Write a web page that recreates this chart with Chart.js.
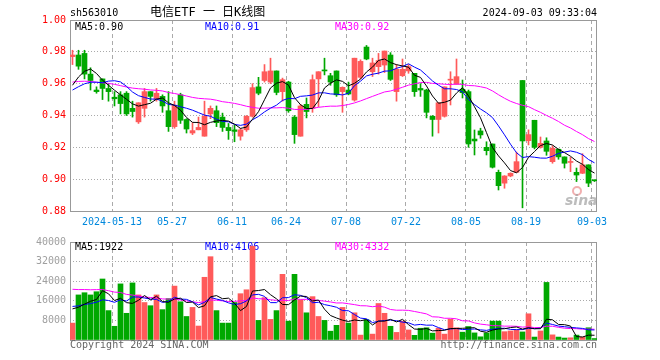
<!DOCTYPE html>
<html>
<head>
<meta charset="utf-8">
<script src="https://cdn.jsdelivr.net/npm/chart.js"></script>
<style>
  body { margin: 0; background: #fff; }
  #wrap { position: relative; width: 660px; height: 360px; background: #fff; font-family: 'DejaVu Sans Mono', monospace; }
  .txt { position: absolute; font-size: 10px; line-height: 12px; white-space: pre; color: #000; }
  #kline { position: absolute; left: 0; top: 0; }
  #vol { position: absolute; left: 0; top: 232px; }
</style>
</head>
<body>
<div id="wrap">
  <canvas id="kline" width="660" height="232"></canvas>
  <canvas id="vol" width="660" height="128"></canvas>
  <div class="txt" style="left:70px;top:7px;">sh563010</div>
  <div class="txt" style="left:150px;top:5px;font-size:12px;line-height:14px;font-family:'DejaVu Sans Mono','Noto Sans CJK SC',monospace;">电信ETF 一 日K线图</div>
  <div class="txt" style="right:63px;top:7px;">2024-09-03 09:33:04</div>
  <div class="txt" style="left:70px;top:339px;color:#666;">Copyright 2024 SINA.COM</div>
  <div class="txt" style="right:63px;top:339px;color:#666;">http://finance.sina.com.cn</div>
</div>
<script>
// daily candles, 2024-04-29 .. 2024-09-03
const opens = [0.977,0.978,0.979,0.966,0.956,0.963,0.957,0.9515,0.953,0.954,
  0.9445,0.936,0.9445,0.955,0.950,0.952,0.943,0.933,0.953,0.9375,
  0.929,0.931,0.927,0.941,0.943,0.939,0.9325,0.931,0.927,0.931,
  0.9395,0.958,0.962,0.961,0.968,0.955,0.961,0.939,0.927,0.947,
  0.9445,0.963,0.9685,0.965,0.968,0.955,0.956,0.9497,0.964,0.983,
  0.9675,0.9707,0.9717,0.978,0.955,0.965,0.968,0.9665,0.957,0.956,
  0.9395,0.9375,0.9395,0.9622,0.9596,0.9565,0.955,0.9252,0.9303,0.920,
  0.9221,0.9043,0.8975,0.902,0.9043,0.962,0.9242,0.937,0.920,0.924,
  0.911,0.9188,0.914,0.9105,0.9043,0.9037,0.909,0.8993];
const highs = [0.981,0.981,0.981,0.970,0.958,0.963,0.960,0.955,0.955,0.955,
  0.949,0.948,0.957,0.955,0.957,0.953,0.955,0.949,0.954,0.938,
  0.9355,0.939,0.949,0.946,0.946,0.9415,0.935,0.934,0.932,0.940,
  0.960,0.964,0.972,0.976,0.968,0.9635,0.9615,0.940,0.947,0.951,
  0.9655,0.9675,0.976,0.9665,0.968,0.958,0.961,0.976,0.975,0.984,
  0.976,0.979,0.9805,0.9795,0.972,0.9755,0.972,0.9665,0.960,0.9565,
  0.940,0.948,0.958,0.9675,0.9755,0.9623,0.956,0.9309,0.932,0.9235,
  0.9221,0.9057,0.9022,0.904,0.917,0.962,0.931,0.937,0.9265,0.926,
  0.921,0.919,0.914,0.9137,0.907,0.916,0.909,0.8995];
const lows = [0.972,0.969,0.963,0.956,0.954,0.950,0.949,0.946,0.941,0.940,
  0.939,0.935,0.939,0.949,0.949,0.942,0.930,0.932,0.935,0.929,
  0.928,0.931,0.927,0.938,0.933,0.930,0.925,0.9235,0.9245,0.930,
  0.939,0.953,0.961,0.960,0.953,0.949,0.942,0.9225,0.927,0.9385,
  0.942,0.9455,0.9655,0.959,0.952,0.942,0.953,0.949,0.963,0.975,
  0.9645,0.966,0.967,0.962,0.949,0.9645,0.9665,0.952,0.952,0.9385,
  0.927,0.929,0.939,0.9466,0.9596,0.951,0.920,0.9152,0.9257,0.9152,
  0.907,0.8932,0.8943,0.9015,0.9043,0.882,0.9215,0.919,0.9195,0.915,
  0.910,0.9125,0.907,0.9047,0.8985,0.9035,0.8953,0.8985];
const closes = [0.978,0.971,0.966,0.962,0.955,0.957,0.955,0.9505,0.9475,0.941,
  0.9425,0.948,0.955,0.952,0.954,0.946,0.933,0.9465,0.937,0.9315,
  0.9305,0.9325,0.9395,0.9445,0.9355,0.9325,0.9305,0.930,0.931,0.9395,
  0.9575,0.954,0.9675,0.968,0.9545,0.9625,0.943,0.928,0.946,0.9425,
  0.9625,0.9675,0.968,0.961,0.953,0.9577,0.9535,0.976,0.974,0.9755,
  0.973,0.9745,0.9805,0.9627,0.969,0.969,0.9707,0.955,0.956,0.942,
  0.9375,0.948,0.958,0.9627,0.9644,0.9543,0.9221,0.924,0.9278,0.9179,
  0.9075,0.8959,0.902,0.9037,0.911,0.924,0.928,0.920,0.9225,0.9175,
  0.9194,0.914,0.910,0.911,0.9026,0.909,0.8975,0.899];
const volumes = [6900,18400,19300,18400,19700,24900,12000,5600,22900,10900,
  23300,18400,15300,14000,18400,12400,16900,22000,15600,9600,
  13300,5700,25600,34000,12000,6900,6900,15300,18900,20500,
  38300,8000,17300,8400,12000,26800,7700,26800,16400,11100,
  17700,9600,8000,3600,6000,13300,6900,11100,2000,8300,
  2400,14900,10900,5600,3100,7700,4100,1900,4800,5000,
  2800,4800,2400,8500,5000,3200,5500,2900,1300,2900,
  7700,7700,3400,3700,4100,3300,10700,1200,3700,23500,
  2100,1200,800,900,2000,1200,5000,600];

// sessions before the window, only used to seed the moving averages
const closesBefore = [0.958,0.962,0.966,0.970,0.968,0.965,0.969,0.972,0.967,0.963,
  0.960,0.964,0.966,0.961,0.958,0.962,0.965,0.960,0.956,0.957,
  0.950,0.948,0.952,0.955,0.960,0.945,0.948,0.955,0.969];
const volumesBefore = [22000,19000,21000,18000,24000,26000,23000,27000,35000,31000,
  30000,28000,20000,23000,25000,19000,22000,26000,21000,24000,
  16000,13500,15000,14000,15000,15000,13000,12600,16000];

const tickIdx = [7, 17, 27, 36, 46, 56, 66, 76, 87];
const tickLabels = ['2024-05-13','05-27','06-11','06-24','07-08','07-22','08-05','08-19','09-03'];
const priceTicks = [0.88, 0.90, 0.92, 0.94, 0.96, 0.98, 1.00];
const volTicks = [0, 8000, 16000, 24000, 32000, 40000];

const RED = '#ff5a5a';
const GREEN = '#00a800';
const HALF = 2.5 / 6;

function movingAvg(before, vals, n) {
  const all = before.concat(vals);
  return vals.map((_, i) => {
    const end = before.length + i + 1;
    let s = 0;
    for (let k = end - n; k < end; k++) s += all[k];
    return s / n;
  });
}

const colors = closes.map((c, i) => c >= opens[i] ? RED : GREEN);
const pts = arr => arr.map((v, i) => ({ x: i, y: v }));

const maLine = (data, color) => ({
  type: 'line', data: pts(data), borderColor: color, borderWidth: 1,
  pointRadius: 0, tension: 0, order: 0
});

function frame(legend, legendY, logo) {
  return {
    id: 'frame',
    beforeDatasetsDraw(chart) {
      const { ctx, chartArea: a } = chart;
      ctx.save();
      ctx.strokeStyle = '#999999';
      ctx.lineWidth = 1;
      ctx.strokeRect(a.left + 0.5, a.top + 0.5, a.right - a.left - 1, a.bottom - a.top);
      ctx.font = "10px 'DejaVu Sans Mono'";
      ctx.textBaseline = 'middle';
      legend.forEach(l => { ctx.fillStyle = l.color; ctx.fillText(l.text, l.x, legendY); });
      if (logo) {
        ctx.strokeStyle = 'rgba(230,110,110,0.55)';
        ctx.lineWidth = 2;
        ctx.beginPath();
        ctx.arc(577, 191, 4, 0, Math.PI * 2);
        ctx.stroke();
        ctx.fillStyle = 'rgba(165,165,165,0.75)';
        ctx.font = "italic bold 14px 'DejaVu Sans'";
        ctx.textBaseline = 'alphabetic';
        ctx.fillText('sina', 565, 205);
      }
      ctx.restore();
    }
  };
}

const xScale = (showLabels, height) => ({
  type: 'linear', min: -HALF, max: 87 + HALF, offset: false,
  afterBuildTicks: s => { s.ticks = tickIdx.map(i => ({ value: i - HALF })); },
  afterFit: s => { s.height = height; },
  ticks: { display: showLabels, autoSkip: false, maxRotation: 0, color: '#0088dd', padding: 5,
           callback: (v, i) => tickLabels[i] },
  grid: { color: '#aaaaaa', drawTicks: false, offset: false },
  border: { display: false, dash: [4, 3] }
});

Chart.defaults.font.family = "'DejaVu Sans Mono', monospace";
Chart.defaults.font.size = 10;

new Chart(document.getElementById('kline'), {
  type: 'bar',
  data: {
    datasets: [
      maLine(movingAvg(closesBefore, closes, 5), '#000000'),
      maLine(movingAvg(closesBefore, closes, 10), '#0000ff'),
      maLine(movingAvg(closesBefore, closes, 30), '#ff00ff'),
      { type: 'bar', data: lows.map((l, i) => ({ x: i, y: [l, highs[i]] })),
        backgroundColor: colors, barThickness: 1, grouped: false, order: 2 },
      { type: 'bar', data: opens.map((o, i) => ({ x: i, y: [o, closes[i]] })),
        backgroundColor: colors, barThickness: 5, grouped: false, minBarLength: 1, order: 1 }
    ]
  },
  options: {
    responsive: false,
    animation: false,
    devicePixelRatio: 1,
    layout: { padding: { top: 20, right: 63, bottom: 0, left: 0 } },
    plugins: { legend: { display: false }, tooltip: { enabled: false } },
    scales: {
      x: xScale(true, 21),
      y: {
        min: 0.88, max: 1.0,
        afterBuildTicks: s => { s.ticks = priceTicks.map(v => ({ value: v })); },
        afterFit: s => { s.width = 70; },
        ticks: { color: '#ff0000', padding: 4, callback: v => v.toFixed(2) },
        grid: { color: '#aaaaaa', drawTicks: false },
        border: { display: false, dash: [1, 2] }
      }
    }
  },
  plugins: [frame([
    { text: 'MA5:0.90', x: 75, color: '#000000' },
    { text: 'MA10:0.91', x: 205, color: '#0000ff' },
    { text: 'MA30:0.92', x: 335, color: '#ff00ff' }
  ], 27, true)]
});

new Chart(document.getElementById('vol'), {
  type: 'bar',
  data: {
    datasets: [
      maLine(movingAvg(volumesBefore, volumes, 5), '#000000'),
      maLine(movingAvg(volumesBefore, volumes, 10), '#0000ff'),
      maLine(movingAvg(volumesBefore, volumes, 30), '#ff00ff'),
      { type: 'bar', data: pts(volumes), backgroundColor: colors,
        barThickness: 5, grouped: false, order: 1 }
    ]
  },
  options: {
    responsive: false,
    animation: false,
    devicePixelRatio: 1,
    layout: { padding: { top: 8, right: 63, bottom: 20, left: 0 } },
    plugins: { legend: { display: false }, tooltip: { enabled: false } },
    scales: {
      x: xScale(false, 0),
      y: {
        min: 0, max: 40000,
        afterBuildTicks: s => { s.ticks = volTicks.map(v => ({ value: v })); },
        afterFit: s => { s.width = 70; },
        ticks: { color: '#a0a0a0', padding: 4, callback: v => v === 0 ? '' : String(v) },
        grid: { color: '#aaaaaa', drawTicks: false },
        border: { display: false, dash: [1, 2] }
      }
    }
  },
  plugins: [frame([
    { text: 'MA5:1922', x: 75, color: '#000000' },
    { text: 'MA10:4106', x: 205, color: '#0000ff' },
    { text: 'MA30:4332', x: 335, color: '#ff00ff' }
  ], 15, false)]
});
</script>
</body>
</html>
